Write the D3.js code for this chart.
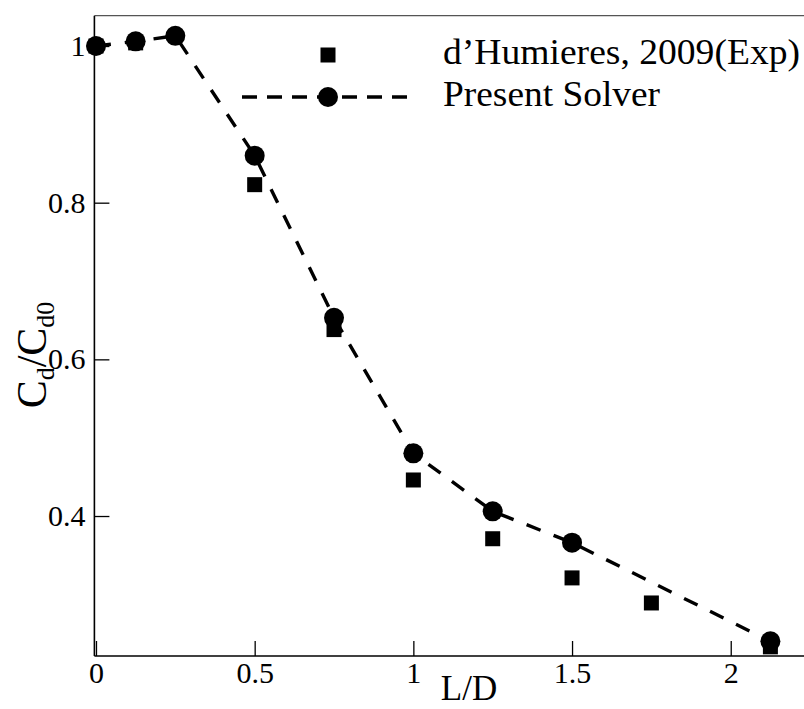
<!DOCTYPE html>
<html>
<head>
<meta charset="utf-8">
<script src="https://cdn.jsdelivr.net/npm/d3@7"></script>
<style>
  body { margin: 0; background: #fff; }
  svg text { font-family: "Liberation Serif", "Times New Roman", serif; fill: #000; }
</style>
</head>
<body>
<svg id="chart" width="804" height="709"></svg>
<script>
// Present Solver (dashed line + circles)
const solverLD = [0, 0.125, 0.25, 0.5, 0.75, 1.0, 1.25, 1.5, 2.125];
const solverCd = [1.0, 1.006, 1.013, 0.860, 0.653, 0.480, 0.406, 0.366, 0.240];
// d'Humieres 2009 experiment (squares)
const expLD = [0, 0.125, 0.5, 0.75, 1.0, 1.25, 1.5, 1.75, 2.125];
const expCd = [1.0, 1.004, 0.823, 0.638, 0.446, 0.371, 0.321, 0.289, 0.233];

const xMajor = [0, 0.5, 1, 1.5, 2];
const yMajor = [0.4, 0.6, 0.8, 1];
const legendNames = ["d\u2019Humieres, 2009(Exp)", "Present Solver"];

var svg = d3.select("#chart");

var x = d3.scaleLinear().domain([-0.005, 2.24]).range([94.4, 806.9]);
var y = d3.scaleLinear().domain([0.2213, 1.0387]).range([656, 15.7]);

// minor ticks
var xMinor = d3.range(1, 23).map(function(i){ return i / 10; }).filter(function(v){ return Math.abs(v*2 - Math.round(v*2)) > 1e-6; });
var yMinor = d3.range(5, 21).map(function(i){ return i / 20; }).filter(function(v){ return Math.abs(v*5 - Math.round(v*5)) > 1e-6; });

// top frame line
svg.append("line")
    .attr("x1", 94.4).attr("x2", 804)
    .attr("y1", 15.7).attr("y2", 15.7)
    .attr("stroke", "#555").attr("stroke-width", 1.2);

var gx = svg.append("g").attr("transform", "translate(0,656)");
gx.call(d3.axisBottom(x).tickValues(xMinor).tickSizeInner(-8).tickSizeOuter(0).tickFormat(""));
gx.call(d3.axisBottom(x).tickValues(xMajor).tickSizeInner(-15).tickSizeOuter(0).tickPadding(6)
        .tickFormat(function(d){ return String(d); }));
gx.selectAll(".domain").remove();
gx.selectAll("line").attr("stroke", "#000").attr("stroke-width", 1.3);
gx.selectAll("text").attr("font-size", 30).attr("font-family", "Liberation Serif");

var gy = svg.append("g").attr("transform", "translate(94.4,0)");
gy.call(d3.axisLeft(y).tickValues(yMinor).tickSizeInner(-9).tickSizeOuter(0).tickFormat(""));
gy.call(d3.axisLeft(y).tickValues(yMajor).tickSizeInner(-15).tickSizeOuter(0).tickPadding(9)
        .tickFormat(function(d){ return d === 1 ? "1" : d.toFixed(1); }));
gy.selectAll(".domain").remove();
gy.selectAll("line").attr("stroke", "#000").attr("stroke-width", 1.3);
gy.selectAll("text").attr("font-size", 30).attr("font-family", "Liberation Serif");

// axis lines
svg.append("line").attr("x1", 94.4).attr("x2", 804).attr("y1", 656).attr("y2", 656)
    .attr("stroke", "#000").attr("stroke-width", 1.6);
svg.append("line").attr("x1", 94.4).attr("x2", 94.4).attr("y1", 15.7).attr("y2", 656)
    .attr("stroke", "#000").attr("stroke-width", 1.6);

var solver = solverLD.map(function(d, i){ return {x: d, y: solverCd[i]}; });
var exp = expLD.map(function(d, i){ return {x: d, y: expCd[i]}; });

// solver dashed line
svg.append("path")
    .datum(solver)
    .attr("fill", "none")
    .attr("stroke", "#000")
    .attr("stroke-width", 3.4)
    .attr("stroke-dasharray", "15,14")
    .attr("d", d3.line().x(function(d){ return x(d.x); }).y(function(d){ return y(d.y); }));

// squares
svg.append("g").selectAll("rect")
    .data(exp)
    .enter().append("rect")
    .attr("x", function(d){ return x(d.x) - 7.5; })
    .attr("y", function(d){ return y(d.y) - 7.5; })
    .attr("width", 15).attr("height", 15)
    .attr("fill", "#000");

// circles
svg.append("g").selectAll("circle")
    .data(solver)
    .enter().append("circle")
    .attr("cx", function(d){ return x(d.x); })
    .attr("cy", function(d){ return y(d.y); })
    .attr("r", 10)
    .attr("fill", "#000");

// legend
var lg = svg.append("g");
lg.append("rect").attr("x", 320.5).attr("y", 47.5).attr("width", 15).attr("height", 15).attr("fill", "#000");
lg.append("line").attr("x1", 242).attr("x2", 407).attr("y1", 97).attr("y2", 97)
    .attr("stroke", "#000").attr("stroke-width", 3.4)
    .attr("stroke-dasharray", "15,10");
lg.append("circle").attr("cx", 328).attr("cy", 97).attr("r", 10).attr("fill", "#000");
lg.append("text").attr("x", 443).attr("y", 64).attr("font-size", 36)
    .attr("textLength", 357).attr("lengthAdjust", "spacingAndGlyphs")
    .text(legendNames[0]);
lg.append("text").attr("x", 443).attr("y", 106).attr("font-size", 36)
    .attr("textLength", 217).attr("lengthAdjust", "spacingAndGlyphs")
    .text(legendNames[1]);

// axis titles
svg.append("text")
    .attr("x", 469).attr("y", 700)
    .attr("text-anchor", "middle")
    .attr("font-size", 35)
    .text("L/D");

var yl = svg.append("text")
    .attr("transform", "translate(46,355) rotate(-90)")
    .attr("text-anchor", "middle")
    .attr("font-size", 42);
yl.append("tspan").text("C");
yl.append("tspan").attr("font-size", 26).attr("dy", 8).text("d");
yl.append("tspan").attr("dy", -8).text("/C");
yl.append("tspan").attr("font-size", 26).attr("dy", 8).text("d0");
</script>
</body>
</html>
